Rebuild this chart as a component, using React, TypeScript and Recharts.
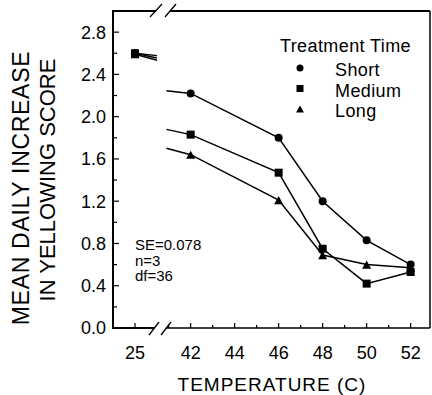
import { LineChart, Line, XAxis, YAxis, Legend } from "recharts"

// temperatures (C) where yellowing was measured, 25 is the control
const temperatures = [25, 42, 46, 48, 50, 52]
const shortTime = [2.6, 2.22, 1.8, 1.2, 0.83, 0.6]
const mediumTime = [2.6, 1.83, 1.47, 0.75, 0.42, 0.53]
const longTime = [2.59, 1.64, 1.21, 0.69, 0.6, 0.57]

const xTickLabels = ["25", "42", "44", "46", "48", "50", "52"]
const yTickLabels = ["0.0", "0.4", "0.8", "1.2", "1.6", "2.0", "2.4", "2.8"]
const notes = ["SE=0.078", "n=3", "df=36"]

const W = 432
const H = 395
const PLOT = { left: 113, right: 430, top: 11, bottom: 328 }
const FONT = "'Liberation Sans', Arial, Helvetica, sans-serif"

// broken x axis: 25..26 is shifted next to 40.9..52
const BREAK_LO = 26
const BREAK_HI = 40.9
const SHIFT = 14.47
const pos = (t: number) => (t <= BREAK_LO ? t + SHIFT : t)
const X_DOMAIN = [38.47, 52.88]

const series = [
  { key: "short", name: "Short", values: shortTime, shape: "circle" },
  { key: "medium", name: "Medium", values: mediumTime, shape: "square" },
  { key: "long", name: "Long", values: longTime, shape: "triangle" },
]

// value where the 25 -> 42 segment meets the edge of the axis break
const edgeValue = (vals: number[], t: number) =>
  vals[0] + ((vals[1] - vals[0]) * (t - temperatures[0])) / (temperatures[1] - temperatures[0])

const rows: any[] = []
temperatures.forEach((t, i) => {
  if (i === 1) {
    const lo: any = { x: pos(BREAK_LO), mark: false }
    const gap: any = { x: (pos(BREAK_LO) + BREAK_HI) / 2, mark: false }
    const hi: any = { x: BREAK_HI, mark: false }
    series.forEach((s) => {
      lo[s.key] = edgeValue(s.values, BREAK_LO)
      gap[s.key] = null
      hi[s.key] = edgeValue(s.values, BREAK_HI)
    })
    rows.push(lo, gap, hi)
  }
  const r: any = { x: pos(t), mark: true }
  series.forEach((s) => (r[s.key] = s.values[i]))
  rows.push(r)
})

const xTicks = [pos(25), 41, 42, 43, 44, 45, 46, 47, 48, 49, 50, 51, 52]
const yTicks = Array.from({ length: 15 }, (_, i) => Math.round(i * 2) / 10)

function Marker({ shape, cx, cy, size }: any) {
  if (shape === "circle") return <circle cx={cx} cy={cy} r={size / 2} fill="#000" />
  if (shape === "square")
    return <rect x={cx - size / 2} y={cy - size / 2} width={size} height={size} fill="#000" />
  const h = size * 0.9
  return (
    <polygon
      points={`${cx - size / 2},${cy + h / 2} ${cx + size / 2},${cy + h / 2} ${cx},${cy - h / 2}`}
      fill="#000"
    />
  )
}

const BottomTick = ({ x, payload }: any) => {
  const v = Math.round(payload.value * 100) / 100
  const label = v === pos(25) ? "25" : xTickLabels.find((l) => Number(l) === v)
  const len = label ? 5 : 3
  return (
    <g>
      <line x1={x} x2={x} y1={PLOT.bottom} y2={PLOT.bottom - len} stroke="#000" strokeWidth={1.2} />
      {label && (
        <text x={x} y={359} textAnchor="middle" fontSize={18} fontFamily={FONT} fill="#000">
          {label}
        </text>
      )}
    </g>
  )
}

const TopTick = ({ x }: any) => (
  <line x1={x} x2={x} y1={PLOT.top} y2={PLOT.top + 4} stroke="#000" strokeWidth={1.2} />
)

const LeftTick = ({ y, payload }: any) => {
  const label = yTickLabels.find((l) => Math.abs(Number(l) - payload.value) < 1e-6)
  const len = label ? 6 : 4
  return (
    <g>
      <line x1={PLOT.left} x2={PLOT.left + len} y1={y} y2={y} stroke="#000" strokeWidth={1.2} />
      {label && (
        <text x={106} y={y} dy="0.36em" textAnchor="end" fontSize={18} fontFamily={FONT} fill="#000">
          {label}
        </text>
      )}
    </g>
  )
}

const RightTick = ({ y }: any) => (
  <line x1={PLOT.right} x2={PLOT.right - 4} y1={y} y2={y} stroke="#000" strokeWidth={1.2} />
)

const LegendBox = () => (
  <svg width={160} height={100} style={{ display: "block" }}>
    <text x={8} y={22} fontSize={18} fontFamily={FONT} letterSpacing={0.4}>
      Treatment Time
    </text>
    {series.map((s, i) => (
      <g key={s.key}>
        <Marker shape={s.shape} cx={28} cy={38 + i * 20.5} size={s.shape === "triangle" ? 8 : 7} />
        <text x={63} y={46 + i * 20.5} fontSize={18} fontFamily={FONT} letterSpacing={0.4}>
          {s.name}
        </text>
      </g>
    ))}
  </svg>
)

export default function App() {
  return (
    <div style={{ position: "absolute", left: 0, top: 0, width: W, height: H, background: "#fff" }}>
      <LineChart
        width={W}
        height={H}
        data={rows}
        margin={{ top: PLOT.top, right: W - PLOT.right, bottom: 0, left: 0 }}
      >
        <XAxis
          dataKey="x"
          type="number"
          domain={X_DOMAIN}
          ticks={xTicks}
          interval={0}
          height={H - PLOT.bottom}
          axisLine={false}
          tickLine={false}
          tickSize={0}
          tick={<BottomTick />}
          label={{
            content: () => (
              <text x={272} y={391} textAnchor="middle" fontSize={19} fontFamily={FONT} letterSpacing={1}>
                TEMPERATURE (C)
              </text>
            ),
          }}
        />
        <XAxis
          xAxisId="top"
          orientation="top"
          dataKey="x"
          type="number"
          domain={X_DOMAIN}
          ticks={xTicks}
          interval={0}
          height={0}
          axisLine={false}
          tickLine={false}
          tickSize={0}
          tick={<TopTick />}
        />
        <YAxis
          type="number"
          domain={[0, 3]}
          ticks={yTicks}
          interval={0}
          width={PLOT.left}
          axisLine={false}
          tickLine={false}
          tickSize={0}
          tick={<LeftTick />}
          label={{
            content: () => (
              <g fontFamily={FONT}>
                <text transform="translate(29,188) rotate(-90)" textAnchor="middle" fontSize={23} letterSpacing={0.7}>
                  MEAN DAILY INCREASE
                </text>
                <text transform="translate(55,180) rotate(-90)" textAnchor="middle" fontSize={22}>
                  IN YELLOWING SCORE
                </text>
              </g>
            ),
          }}
        />
        <YAxis
          yAxisId="right"
          orientation="right"
          type="number"
          domain={[0, 3]}
          ticks={yTicks.slice(1)}
          interval={0}
          width={0}
          axisLine={false}
          tickLine={false}
          tickSize={0}
          tick={<RightTick />}
        />
        <Legend
          layout="vertical"
          align="center"
          verticalAlign="middle"
          wrapperStyle={{ left: 272, top: 30, width: 160, height: 100 }}
          content={() => <LegendBox />}
        />
        {series.map((s) => (
          <Line
            key={s.key}
            dataKey={s.key}
            name={s.name}
            type="linear"
            stroke="#000"
            strokeWidth={1.5}
            connectNulls={false}
            isAnimationActive={false}
            dot={(p: any) =>
              p.payload.mark ? (
                <Marker key={`${s.key}-${p.index}`} shape={s.shape} cx={p.cx} cy={p.cy} size={s.shape === "triangle" ? 9 : 8} />
              ) : (
                <g key={`${s.key}-${p.index}`} />
              )
            }
            activeDot={false}
          />
        ))}
      </LineChart>
      <svg
        width={W}
        height={H}
        style={{ position: "absolute", left: 0, top: 0, pointerEvents: "none" }}
        fontFamily={FONT}
      >
        <g stroke="#000" fill="none">
          <line x1={PLOT.left} x2={PLOT.left} y1={PLOT.top - 1} y2={PLOT.bottom + 1} strokeWidth={2} />
          <line x1={PLOT.right} x2={PLOT.right} y1={PLOT.top} y2={PLOT.bottom} strokeWidth={1.5} />
          <line x1={PLOT.left} x2={156} y1={PLOT.top} y2={PLOT.top} strokeWidth={2} />
          <line x1={170} x2={PLOT.right} y1={PLOT.top} y2={PLOT.top} strokeWidth={2} />
          <line x1={PLOT.left} x2={155} y1={PLOT.bottom} y2={PLOT.bottom} strokeWidth={1.8} />
          <line x1={166} x2={PLOT.right} y1={PLOT.bottom} y2={PLOT.bottom} strokeWidth={1.5} />
          <line x1={150} y1={17} x2={162} y2={4} strokeWidth={1.3} />
          <line x1={165} y1={17} x2={176} y2={4} strokeWidth={1.3} />
          <line x1={149} y1={335} x2={159} y2={322} strokeWidth={1.3} />
          <line x1={161} y1={335} x2={171} y2={322} strokeWidth={1.3} />
        </g>
        {notes.map((n, i) => (
          <text key={n} x={135} y={250 + i * 15.5} fontSize={15}>
            {n}
          </text>
        ))}
      </svg>
    </div>
  )
}
